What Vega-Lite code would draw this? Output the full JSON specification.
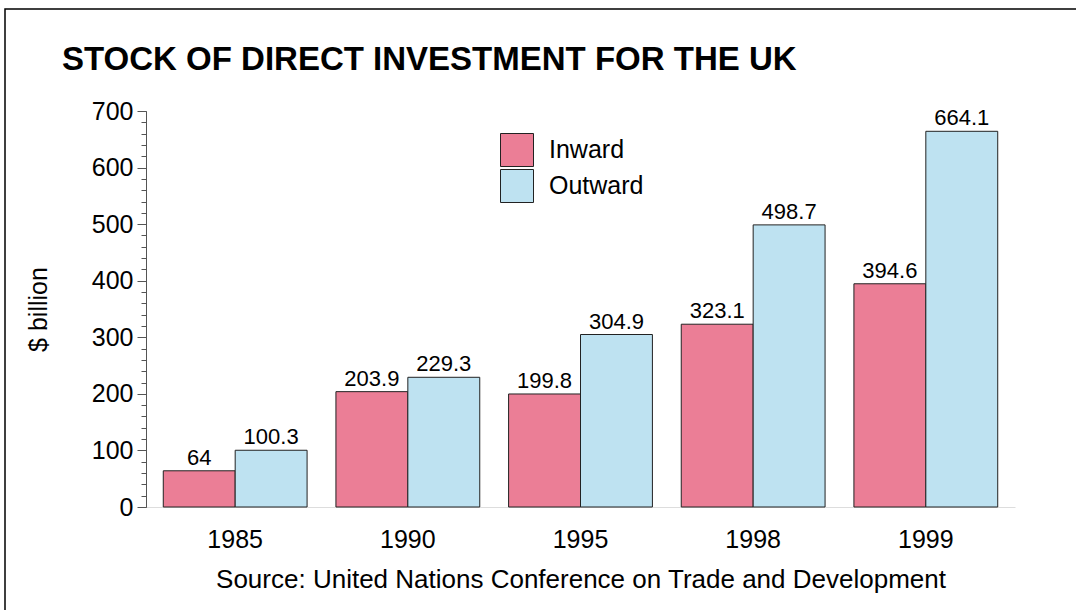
{
  "$schema": "https://vega.github.io/schema/vega-lite/v6.json",
  "autosize": "none",
  "width": 1081,
  "height": 611,
  "padding": {"left": 5, "top": 9, "right": -10, "bottom": -10},
  "background": "white",
  "config": {
    "view": {"stroke": "#000", "strokeWidth": 1.5},
    "font": "Liberation Sans"
  },
  "title": {
    "text": "STOCK OF DIRECT INVESTMENT FOR THE UK",
    "anchor": "start",
    "frame": "group",
    "dx": 57,
    "offset": -94,
    "baseline": "alphabetic",
    "fontSize": 33,
    "fontWeight": "bold",
    "font": "Liberation Sans",
    "color": "#000"
  },
  "data": {
    "values": [
      {"year": "1985", "type": "Inward", "value": 64},
      {"year": "1985", "type": "Outward", "value": 100.3},
      {"year": "1990", "type": "Inward", "value": 203.9},
      {"year": "1990", "type": "Outward", "value": 229.3},
      {"year": "1995", "type": "Inward", "value": 199.8},
      {"year": "1995", "type": "Outward", "value": 304.9},
      {"year": "1998", "type": "Inward", "value": 323.1},
      {"year": "1998", "type": "Outward", "value": 498.7},
      {"year": "1999", "type": "Inward", "value": 394.6},
      {"year": "1999", "type": "Outward", "value": 664.1}
    ]
  },
  "encoding": {
    "x": {
      "field": "year",
      "type": "nominal",
      "scale": {"range": [141, 1010], "paddingInner": 0.167, "paddingOuter": 0.1},
      "axis": {
        "orient": "bottom",
        "offset": -113,
        "title": "Source: United Nations Conference on Trade and Development",
        "titleFontSize": 26,
        "titleFontWeight": "normal",
        "titleColor": "#000",
        "titlePadding": 14,
        "labelAngle": 0,
        "labelFontSize": 25,
        "labelColor": "#000",
        "labelPadding": 20,
        "ticks": false,
        "domainColor": "#dddddd",
        "grid": false
      }
    },
    "xOffset": {"field": "type", "type": "nominal", "scale": {"paddingInner": 0}}
  },
  "layer": [
    {
      "mark": {"type": "bar", "stroke": "#222", "strokeWidth": 1},
      "encoding": {
        "y": {
          "field": "value",
          "type": "quantitative",
          "scale": {"domain": [0, 700], "range": [498, 102], "nice": false},
          "axis": {
            "orient": "left",
            "offset": -141,
            "values": [0, 100, 200, 300, 400, 500, 600, 700],
            "tickSize": 9,
            "tickColor": "#555",
            "domainColor": "#555",
            "labelFontSize": 25,
            "labelColor": "#000",
            "labelPadding": 4,
            "grid": false,
            "title": "$ billion",
            "titleFontSize": 25,
            "titleFontWeight": "normal",
            "titleColor": "#000",
            "titlePadding": 40
          }
        },
        "color": {
          "field": "type",
          "type": "nominal",
          "scale": {"domain": ["Inward", "Outward"], "range": ["#EB7E96", "#BEE2F1"]},
          "legend": {
            "orient": "none",
            "legendX": 495,
            "legendY": 124,
            "title": null,
            "symbolType": "square",
            "symbolSize": 1089,
            "symbolStrokeColor": "#222",
            "symbolStrokeWidth": 1,
            "symbolOpacity": 1,
            "labelFontSize": 25,
            "labelColor": "#000",
            "labelOffset": 15,
            "rowPadding": -5
          }
        }
      }
    },
    {
      "mark": {"type": "text", "baseline": "bottom", "dy": -1, "fontSize": 22, "color": "#000"},
      "encoding": {
        "text": {"field": "value", "type": "quantitative"},
        "y": {
          "field": "value",
          "type": "quantitative",
          "scale": {"domain": [0, 700], "range": [498, 102], "nice": false},
          "axis": {
            "orient": "left",
            "offset": -141,
            "values": [0, 20, 40, 60, 80, 100, 120, 140, 160, 180, 200, 220, 240, 260, 280, 300, 320, 340, 360, 380, 400, 420, 440, 460, 480, 500, 520, 540, 560, 580, 600, 620, 640, 660, 680, 700],
            "tickSize": 5,
            "tickColor": "#555",
            "labels": false,
            "domain": false,
            "grid": false,
            "title": null
          }
        }
      }
    }
  ],
  "resolve": {"axis": {"y": "independent"}}
}
